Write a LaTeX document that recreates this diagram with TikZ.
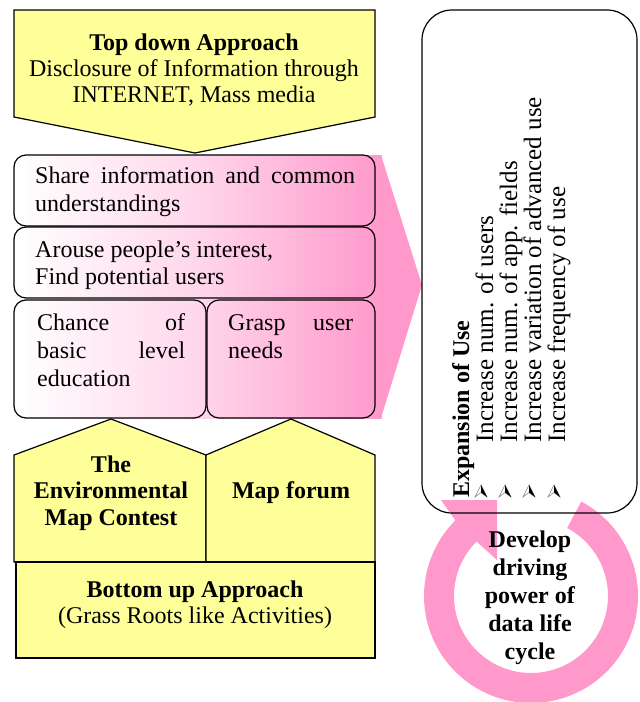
\documentclass[tikz,border=0pt]{standalone}
\usepackage{fontspec}
\setmainfont{Liberation Serif}
\usetikzlibrary{calc}
\definecolor{pinkc}{HTML}{FF99CC}
\definecolor{yel}{HTML}{FFFF99}
\begin{document}
\begin{tikzpicture}[x=1pt,y=1pt,yscale=-1,
  txt/.style={inner sep=0pt, font={\fontsize{24}{#1}\selectfont}},
  txt/.default=27,
  rtxt/.style={inner sep=0pt, font={\fontsize{25}{27}\selectfont}, anchor=base west, rotate=90},
  bx/.style={draw, line width=1.2pt, rounded corners=12pt},
  ys/.style={draw, fill=yel, line width=1.2pt, line join=miter},
  bul/.style={draw=gray, line width=0.5pt, fill=white},
]
\useasboundingbox (0,0) rectangle (640,702);
\clip (0,0) rectangle (640,702);

% pink chevron
\shade[left color=white, right color=pinkc, middle color=pinkc!40] (14,155) rectangle (381.5,418);
\fill[pinkc] (381,155) -- (422,285) -- (381,418) -- cycle;

% rounded boxes
\draw[bx] (14,155) rectangle (375,226);
\draw[bx] (14,227) rectangle (375,298);
\draw[bx] (14,300) rectangle (206,418);
\draw[bx] (207,300) rectangle (375,418);

% yellow shapes
\filldraw[ys] (14,10) -- (375,10) -- (375,117) -- (195,153) -- (14,117) -- cycle;
\filldraw[ys] (14,562) -- (14,455) -- (111,419) -- (206,455) -- (206,562) -- cycle;
\filldraw[ys] (206,562) -- (206,455) -- (291,419) -- (375,455) -- (375,562) -- cycle;
\filldraw[ys] (16,562) rectangle (375,658);

% right box (fill), ring, right box border
\fill[white, rounded corners=30pt] (422,10) rectangle (637,513);
\coordinate (rc) at (531,596);
\fill[pinkc] ($(rc)+(-62:107)$) arc[start angle=-62, end angle=225, radius=107]
  -- (441,500) -- (497,500) -- (497,560)
  -- ($(rc)+(225:77)$) arc[start angle=225, end angle=-62, radius=77] -- cycle;
\draw[line width=1.2pt, rounded corners=30pt] (422,10) rectangle (637,513);

% texts: top
\node[txt=26, anchor=base] (top) at (194,50) {\begin{tabular}[t]{@{}c@{}}\textbf{Top down Approach}\\Disclosure of Information through\\INTERNET, Mass media\end{tabular}};

\node[txt=28, anchor=base west] (share) at (35,183) {\begin{tabular}[t]{@{}l@{}}\makebox[320pt][s]{Share information and common}\\understandings\end{tabular}};
\node[txt=27, anchor=base west] (arouse) at (35,257) {\begin{tabular}[t]{@{}l@{}}Arouse people’s interest,\\Find potential users\end{tabular}};
\node[txt=28, anchor=base west] (chance) at (37,330) {\begin{tabular}[t]{@{}l@{}}\makebox[148pt][s]{Chance of}\\\makebox[148pt][s]{basic level}\\education\end{tabular}};
\node[txt=28, anchor=base west] (grasp) at (228,330) {\begin{tabular}[t]{@{}l@{}}\makebox[125pt][s]{Grasp user}\\needs\end{tabular}};

\node[txt=26.5, anchor=base] (contest) at (111,472) {\begin{tabular}[t]{@{}c@{}}\textbf{The}\\\textbf{Environmental}\\\textbf{Map Contest}\end{tabular}};
\node[txt, anchor=base] (forum) at (291,498) {\textbf{Map forum}};
\node[txt=26, anchor=base] (bottom) at (195,597) {\begin{tabular}[t]{@{}c@{}}\textbf{Bottom up Approach}\\(Grass Roots like Activities)\end{tabular}};

\node[txt=28, anchor=base] (develop) at (530,547) {\begin{tabular}[t]{@{}c@{}}\textbf{Develop}\\\textbf{driving}\\\textbf{power of}\\\textbf{data life}\\\textbf{cycle}\end{tabular}};

% rotated texts
\node[txt, anchor=base west, rotate=90] (exp) at (469,498) {\textbf{Expansion of Use}};
\node[rtxt] (l1) at (493,443) {Increase num. of users};
\node[rtxt] (l2) at (517,443) {Increase num. of app. fields};
\node[rtxt] (l3) at (541,443) {Increase variation of advanced use};
\node[rtxt] (l4) at (565,443) {Increase frequency of use};

% bullets
\foreach \cx in {481,505,529,554}{
  \filldraw[bul] (\cx,485) -- (\cx-6,497) -- (\cx,492.5) -- (\cx+6,497) -- cycle;
  \fill[black] (\cx,485) -- (\cx,492.5) -- (\cx+6,497) -- cycle;
}
\end{tikzpicture}
\end{document}
